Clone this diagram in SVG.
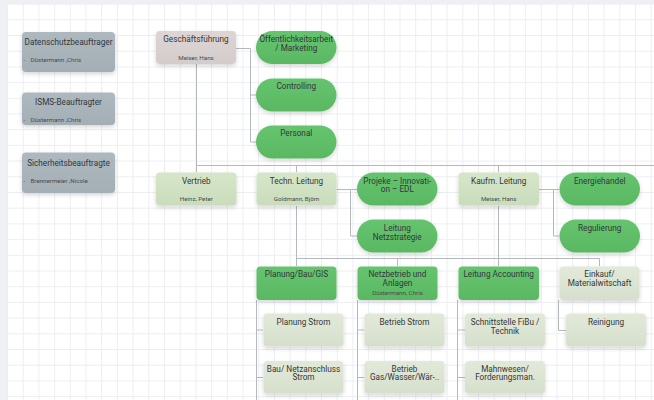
<svg xmlns="http://www.w3.org/2000/svg" width="654" height="400" viewBox="0 0 654 400">
<defs>
  <pattern id="grid" patternUnits="userSpaceOnUse" x="7" y="3.6" width="15.7" height="15.7">
    <path d="M0 0.5 H15.7 M0.5 0 V15.7" fill="none" stroke="#edeef2" stroke-width="1"/>
  </pattern>
  <filter id="sh" x="-20%" y="-30%" width="140%" height="170%">
    <feDropShadow dx="0" dy="2" stdDeviation="2" flood-color="#000" flood-opacity="0.16"/>
  </filter>
  <linearGradient id="gGray" x1="0" y1="0" x2="0" y2="1">
    <stop offset="0" stop-color="#aeb8bf"/><stop offset="1" stop-color="#a3aeb5"/>
  </linearGradient>
  <linearGradient id="gPink" x1="0" y1="0" x2="0" y2="1">
    <stop offset="0" stop-color="#ded5d5"/><stop offset="1" stop-color="#d4cbcb"/>
  </linearGradient>
  <linearGradient id="gLight" x1="0" y1="0" x2="0" y2="1">
    <stop offset="0" stop-color="#d6e7c9"/><stop offset="1" stop-color="#c9dcbb"/>
  </linearGradient>
  <linearGradient id="gGreen" x1="0" y1="0" x2="0" y2="1">
    <stop offset="0" stop-color="#66c46f"/><stop offset="1" stop-color="#5ab863"/>
  </linearGradient>
  <linearGradient id="gPale" x1="0" y1="0" x2="0" y2="1">
    <stop offset="0" stop-color="#e2e9d9"/><stop offset="1" stop-color="#d6dfcc"/>
  </linearGradient>
</defs>
<style>
  text { font-family: Roboto, "Liberation Sans", sans-serif; fill: #33373a; text-anchor: middle; }
  .t { font-size: 8.2px; }
  .s { font-size: 6.2px; fill: #474c50; }
  .l { text-anchor: start; }
  .gray { fill: url(#gGray); filter: url(#sh); }
  .pink { fill: url(#gPink); filter: url(#sh); }
  .light { fill: url(#gLight); filter: url(#sh); }
  .green { fill: url(#gGreen); filter: url(#sh); }
  .pale { fill: url(#gPale); filter: url(#sh); }
  .conn path { fill: none; stroke: #b4b8bf; stroke-width: 1; }
</style>
<rect width="654" height="400" fill="#eef0f4"/>
<rect x="7" y="4" width="647" height="396" fill="#ffffff"/>
<rect x="7" y="4" width="647" height="396" fill="url(#grid)"/>

<g class="conn">
  <path d="M196.5 64 V172"/>
  <path d="M196.5 165.5 H654"/>
  <path d="M296.5 165.5 V172"/>
  <path d="M498.5 165.5 V172"/>
  <path d="M236 48.5 H250.5 V142 H256"/>
  <path d="M250.5 95 H256"/>
  <path d="M336.5 189.5 H350.5 V236 H357"/>
  <path d="M350.5 189.5 H357"/>
  <path d="M539 189.5 H553.5 V236 H559"/>
  <path d="M553.5 189.5 H559"/>
  <path d="M296.5 206 V266"/>
  <path d="M498.5 206 V266"/>
  <path d="M296.5 258.5 H599.5 V266"/>
  <path d="M397.5 258.5 V266"/>
  <path d="M256.5 300 V400 M256.5 330 H263 M256.5 377.5 H263"/>
  <path d="M357.5 300 V400 M357.5 330 H364 M357.5 377.5 H364"/>
  <path d="M457.5 300 V400 M457.5 330 H465 M457.5 377.5 H465"/>
  <path d="M558.5 300 V330.5 H566"/>
</g>

<g id="datenschutz">
  <rect class="gray" x="22" y="32" width="93" height="40" rx="4"/>
  <text class="t" x="68.5" y="44.5">Datenschutzbeauftrager</text>
  <text class="s l" x="23.5" y="62">-</text>
  <text class="s l" x="30.5" y="62">Düstermann ,Chris</text>
</g>
<g id="isms">
  <rect class="gray" x="22" y="92.5" width="93" height="32.5" rx="4"/>
  <text class="t" x="68.5" y="105">ISMS-Beauftragter</text>
  <text class="s l" x="23.5" y="122">-</text>
  <text class="s l" x="30.5" y="122">Düstermann ,Chris</text>
</g>
<g id="sicherheit">
  <rect class="gray" x="22" y="152.5" width="93" height="40.5" rx="4"/>
  <text class="t" x="68.5" y="165.5">Sicherheitsbeauftragte</text>
  <text class="s l" x="23.5" y="182.5">-</text>
  <text class="s l" x="30.5" y="182.5">Brennermeier ,Nicole</text>
</g>

<g id="gf">
  <rect class="pink" x="156" y="31" width="80" height="33" rx="4"/>
  <text class="t" x="196" y="42">Geschäftsführung</text>
  <text class="s" x="196" y="59.5">Meiser, Hans</text>
</g>
<g id="oeff">
  <rect class="green" x="256" y="31" width="80.5" height="33" rx="16.5"/>
  <text class="t" x="296.3" y="41.5">Öffentlichkeitsarbeit</text>
  <text class="t" x="296.3" y="50.5">/ Marketing</text>
</g>
<g id="controlling">
  <rect class="green" x="256" y="78.5" width="80.5" height="33" rx="16.5"/>
  <text class="t" x="296.3" y="89">Controlling</text>
</g>
<g id="personal">
  <rect class="green" x="256" y="125.5" width="80.5" height="33" rx="16.5"/>
  <text class="t" x="296.3" y="136">Personal</text>
</g>

<g id="vertrieb">
  <rect class="light" x="156" y="172.5" width="80.5" height="33" rx="4"/>
  <text class="t" x="196.3" y="183.5">Vertrieb</text>
  <text class="s" x="196.3" y="200.5">Heinz, Peter</text>
</g>
<g id="techn">
  <rect class="light" x="256.5" y="172.5" width="80" height="33" rx="4"/>
  <text class="t" x="296.5" y="183.5">Techn. Leitung</text>
  <text class="s" x="296.5" y="200.5">Goldmann, Björn</text>
</g>
<g id="projeke">
  <rect class="green" x="357" y="172.5" width="80.5" height="33" rx="16.5"/>
  <text class="t" x="397.3" y="183.5">Projeke – Innovati-</text>
  <text class="t" x="397.3" y="192.3">on – EDL</text>
</g>
<g id="netzstrategie">
  <rect class="green" x="357" y="219.5" width="80.5" height="33" rx="16.5"/>
  <text class="t" x="397.3" y="230.5">Leitung</text>
  <text class="t" x="397.3" y="239.5">Netzstrategie</text>
</g>
<g id="kaufm">
  <rect class="light" x="458.5" y="172.5" width="80.5" height="33" rx="4"/>
  <text class="t" x="498.7" y="183.5">Kaufm. Leitung</text>
  <text class="s" x="498.7" y="200.5">Meiser, Hans</text>
</g>
<g id="energiehandel">
  <rect class="green" x="559.5" y="172.5" width="80.5" height="33" rx="16.5"/>
  <text class="t" x="599.7" y="183.5">Energiehandel</text>
</g>
<g id="regulierung">
  <rect class="green" x="559.5" y="219.5" width="80.5" height="33" rx="16.5"/>
  <text class="t" x="599.7" y="230.5">Regulierung</text>
</g>

<g id="planung">
  <rect class="green" x="256.5" y="266.5" width="80" height="33.5" rx="4"/>
  <text class="t" x="296.5" y="277">Planung/Bau/GIS</text>
</g>
<g id="netzbetrieb">
  <rect class="green" x="357.5" y="266.5" width="80" height="33.5" rx="4"/>
  <text class="t" x="397.5" y="277.3">Netzbetrieb und</text>
  <text class="t" x="397.5" y="286.3">Anlagen</text>
  <text class="s" x="397.5" y="294.8">Düstermann, Chris</text>
</g>
<g id="accounting">
  <rect class="green" x="458.5" y="266.5" width="80.5" height="33.5" rx="4"/>
  <text class="t" x="498.7" y="277.3">Leitung Accounting</text>
</g>
<g id="einkauf">
  <rect class="pale" x="559.5" y="266.5" width="80" height="33.5" rx="4"/>
  <text class="t" x="599.5" y="277.3">Einkauf/</text>
  <text class="t" x="599.5" y="286.3">Materialwitschaft</text>
</g>

<g id="planungstrom">
  <rect class="pale" x="263.5" y="313.5" width="80" height="33" rx="4"/>
  <text class="t" x="303.5" y="324.5">Planung Strom</text>
</g>
<g id="betriebstrom">
  <rect class="pale" x="364.5" y="313.5" width="80" height="33" rx="4"/>
  <text class="t" x="404.5" y="324.5">Betrieb Strom</text>
</g>
<g id="schnittstelle">
  <rect class="pale" x="465" y="313.5" width="80" height="33" rx="4"/>
  <text class="t" x="505" y="324.8">Schnittstelle FiBu /</text>
  <text class="t" x="505" y="333.6">Technik</text>
</g>
<g id="reinigung">
  <rect class="pale" x="566" y="313.5" width="80" height="33" rx="4"/>
  <text class="t" x="606" y="324.8">Reinigung</text>
</g>
<g id="bau">
  <rect class="pale" x="263.5" y="361" width="80" height="32.5" rx="4"/>
  <text class="t" x="303.5" y="371.6">Bau/ Netzanschluss</text>
  <text class="t" x="303.5" y="380.4">Strom</text>
</g>
<g id="betriebgas">
  <rect class="pale" x="364.5" y="361" width="80" height="32.5" rx="4"/>
  <text class="t" x="404.5" y="371.6">Betrieb</text>
  <text class="t" x="404.5" y="380.4">Gas/Wasser/Wär-..</text>
</g>
<g id="mahnwesen">
  <rect class="pale" x="465" y="361" width="80" height="32.5" rx="4"/>
  <text class="t" x="505" y="371.6">Mahnwesen/</text>
  <text class="t" x="505" y="380.4">Forderungsman.</text>
</g>
</svg>
